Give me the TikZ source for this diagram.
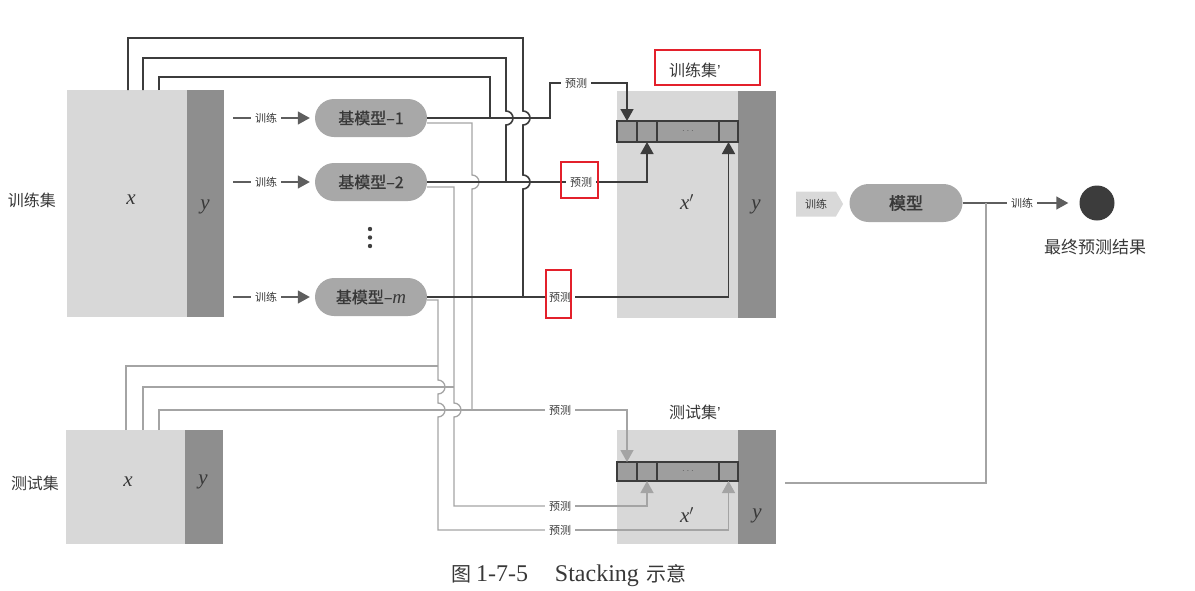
\documentclass[tikz,border=0pt]{standalone}
\usepackage{fontspec}
\setmainfont{Liberation Serif}
\newfontfamily\cjk{Noto Sans CJK SC}
\newfontfamily\cjkm[FakeBold=1]{Noto Sans CJK SC}
\newfontfamily\cjkb[FakeBold=2]{Noto Sans CJK SC}
\newfontfamily\latinsans{Liberation Sans}
\usetikzlibrary{arrows.meta,shapes.symbols}
\definecolor{boxlight}{HTML}{D8D8D8}
\definecolor{boxdark}{HTML}{8E8E8E}
\definecolor{pillgray}{HTML}{A8A8A8}
\definecolor{cellgray}{HTML}{9E9E9E}
\definecolor{darkline}{HTML}{3C3C3C}
\definecolor{midline}{HTML}{5E5E5E}
\definecolor{lightline}{HTML}{A4A4A4}
\definecolor{textgray}{HTML}{383838}
\definecolor{annot}{HTML}{E3202B}
\definecolor{signalgray}{HTML}{D9D9D9}
\definecolor{dotgray}{HTML}{404040}
\tikzset{
  part/.style={draw=none, inner sep=0pt, outer sep=0pt, anchor=north west},
  xpart/.style={part, fill=boxlight},
  ypart/.style={part, fill=boxdark},
  varlbl/.style={text=textgray, font=\fontsize{21}{22}\selectfont\itshape},
  setlbl/.style={text=textgray, font=\cjk\fontsize{16}{18}\selectfont},
  pill/.style={fill=pillgray, rounded corners=19pt, minimum width=112pt, minimum height=38pt, inner sep=0pt, text=textgray, font=\cjkm\fontsize{16}{18}\selectfont},
  small/.style={fill=white, inner xsep=4pt, inner ysep=1pt, text=textgray, font=\cjk\fontsize{11}{12}\selectfont},
  cellbox/.style={part, fill=cellgray, draw=darkline, line width=1.4pt},
  cdots/.style={text=midline, font=\fontsize{10}{10}\selectfont},
  dk/.style={draw=darkline, line width=1.6pt},
  lt/.style={draw=lightline, line width=1.3pt},
  md/.style={draw=midline, line width=1.4pt},
  dkarrow/.style={dk, -{Triangle[length=12pt,width=13pt]}},
  ltarrow/.style={lt, -{Triangle[length=12pt,width=13pt]}},
  mdarrow/.style={md, -{Triangle[length=12pt,width=13pt]}},
  annotbox/.style={draw=annot, line width=2pt},
}
\begin{document}
\begin{tikzpicture}[x=1pt,y=-1pt]
\useasboundingbox (0,0) rectangle (1195,590);

% ---- training set
\node[xpart, minimum width=120pt, minimum height=227pt] (trx) at (67,90) {};
\node[ypart, minimum width=37pt, minimum height=227pt] (try) at (187,90) {};
\node[varlbl] (trxl) at (131,200) {x};
\node[varlbl] (tryl) at (205,207) {y};
\node[setlbl] (trlbl) at (32,200) {训练集};

% ---- test set
\node[xpart, minimum width=119pt, minimum height=114pt] (tex) at (66,430) {};
\node[ypart, minimum width=38pt, minimum height=114pt] (tey) at (185,430) {};
\node[varlbl] (texl) at (128,482) {x};
\node[varlbl] (teyl) at (203,482) {y};
\node[setlbl] (telbl) at (35,483) {测试集};

% ---- training set'
\node[xpart, minimum width=121pt, minimum height=227pt] (tpx) at (617,91) {};
\node[ypart, minimum width=38pt, minimum height=227pt] (tpy) at (738,91) {};
\node[varlbl] (tpxl) at (687,202) {x$'$};
\node[varlbl] (tpyl) at (756,207) {y};
\node[setlbl] (tptitle) at (695,70) {训练集{\latinsans ’}};
\node[cellbox, minimum width=20pt, minimum height=21pt] (c1) at (617,121) {};
\node[cellbox, minimum width=20pt, minimum height=21pt] (c2) at (637,121) {};
\node[cellbox, minimum width=62pt, minimum height=21pt] (c3) at (657,121) {};
\node[cellbox, minimum width=19pt, minimum height=21pt] (c4) at (719,121) {};
\node[cdots] (c3d) at (c3.center) {$\cdots$};

% ---- test set'
\node[xpart, minimum width=121pt, minimum height=114pt] (ttx) at (617,430) {};
\node[ypart, minimum width=38pt, minimum height=114pt] (tty) at (738,430) {};
\node[varlbl] (ttxl) at (687,515) {x$'$};
\node[varlbl] (ttyl) at (757,516) {y};
\node[setlbl] (tttitle) at (695,412) {测试集{\latinsans ’}};
\node[cellbox, minimum width=20pt, minimum height=19pt] (tc1) at (617,462) {};
\node[cellbox, minimum width=20pt, minimum height=19pt] (tc2) at (637,462) {};
\node[cellbox, minimum width=62pt, minimum height=19pt] (tc3) at (657,462) {};
\node[cellbox, minimum width=19pt, minimum height=19pt] (tc4) at (719,462) {};
\node[cdots] (tc3d) at (tc3.center) {$\cdots$};

% ---- base models
\node[pill] (m1) at (371,118) {基模型–1};
\node[pill] (m2) at (371,182) {基模型–2};
\node[pill] (mm) at (371,297) {基模型–{\rmfamily\itshape\fontsize{19}{19}\selectfont m}};
\fill[dotgray] (370,229) circle (2.2) (370,237.5) circle (2.2) (370,246) circle (2.2);

% ---- training arrows
\coordinate (ts1) at (233,118);
\coordinate (ts2) at (233,182);
\coordinate (tsm) at (233,297);
\node[small] (tl1) at (266,118) {训练};
\node[small] (tl2) at (266,182) {训练};
\node[small] (tlm) at (266,297) {训练};
\draw[md] (ts1) -- (tl1);
\draw[md] (ts2) -- (tl2);
\draw[md] (tsm) -- (tlm);
\draw[mdarrow, shorten >=5pt] (tl1) -- (m1);
\draw[mdarrow, shorten >=5pt] (tl2) -- (m2);
\draw[mdarrow, shorten >=5pt] (tlm) -- (mm);

% ---- prediction labels
\node[small] (p1) at (576,83) {预测};
\node[small] (p2) at (581,182) {预测};
\node[small] (pm) at (560,297) {预测};
\node[small] (pt1) at (560,410) {预测};
\node[small] (pt2) at (560,506) {预测};
\node[small] (ptm) at (560,530) {预测};

% ---- light lines (test predictions)
\draw[lt] ([yshift=-5pt]m1.east) -- (472,123) -- (472,175)
  arc[start angle=-90,end angle=90,radius=7] -- (472,410);
\draw[lt] ([yshift=-5pt]m2.east) -- (454,187) -- (454,403)
  arc[start angle=-90,end angle=90,radius=7] -- (454,506) -- (pt2);
\draw[lt] ([yshift=-3pt]mm.east) -- (438,300) -- (438,380)
  arc[start angle=-90,end angle=90,radius=7] -- (438,403)
  arc[start angle=-90,end angle=90,radius=7] -- (438,530) -- (ptm);
\draw[lt] ([xshift=60pt]tex.north west) |- (438,366);
\draw[lt] ([xshift=77pt]tex.north west) |- (454,387);
\draw[lt] ([xshift=93pt]tex.north west) |- (pt1);
\draw[ltarrow] (pt1) -| (tc1.north);
\draw[ltarrow] (pt2) -| (tc2.south);
\draw[ltarrow] (ptm) -| (tc4.south);

% ---- dark lines (training predictions)
\draw[dk] ([xshift=61pt]trx.north west) -- (128,38) -- (523,38) -- (523,111)
  arc[start angle=-90,end angle=90,radius=7] -- (523,175)
  arc[start angle=-90,end angle=90,radius=7] -- (523,297);
\draw[dk] ([xshift=76pt]trx.north west) -- (143,58) -- (506,58) -- (506,111)
  arc[start angle=-90,end angle=90,radius=7] -- (506,182);
\draw[dk] ([xshift=92pt]trx.north west) -- (159,77) -- (490,77) -- (490,118);
\draw[dk] (m1) -- (550,118) |- (p1);
\draw[dkarrow] (p1) -| (c1.north);
\draw[dk] (m2) -- (p2);
\draw[dkarrow] (p2) -| (c2.south);
\draw[dk] (mm) -- (pm);
\draw[dkarrow] (pm) -| (c4.south);

% ---- final model
\node[signal, signal to=east, signal pointer angle=120, fill=signalgray, minimum width=47pt, minimum height=25pt, inner sep=0pt, text=textgray, font=\cjk\fontsize{11}{12}\selectfont] (sig) at (816,204) {训练};
\node[pill, minimum width=113pt, font=\cjkb\fontsize{17}{19}\selectfont] (model) at (906,203) {模型};
\node[circle, fill=darkline, minimum size=35pt, inner sep=0pt] (res) at (1097,203) {};
\node[setlbl, font=\cjk\fontsize{17}{19}\selectfont] (restext) at (1095,247) {最终预测结果};
\node[small] (t4) at (1022,203) {训练};
\draw[md] (model) -- (t4);
\draw[mdarrow, shorten >=11pt] (t4) -- (res);
\coordinate (tpout) at (785,483);
\coordinate (jn) at (986,203);
\draw[lt] (tpout) -| (jn);

% ---- annotation boxes
\draw[annotbox] (655,50) rectangle (760,85);
\draw[annotbox] (561,162) rectangle (598,198);
\draw[annotbox] (546,270) rectangle (571,318);

% ---- caption
\node[text=textgray] (cap) at (569,576) {{\cjk\fontsize{20}{21}\selectfont 图}\hspace{5pt}{\fontsize{24}{25}\selectfont 1-7-5\hspace{27pt}Stacking}\hspace{8pt}{\cjk\fontsize{20}{21}\selectfont 示意}};
\end{tikzpicture}
\end{document}
